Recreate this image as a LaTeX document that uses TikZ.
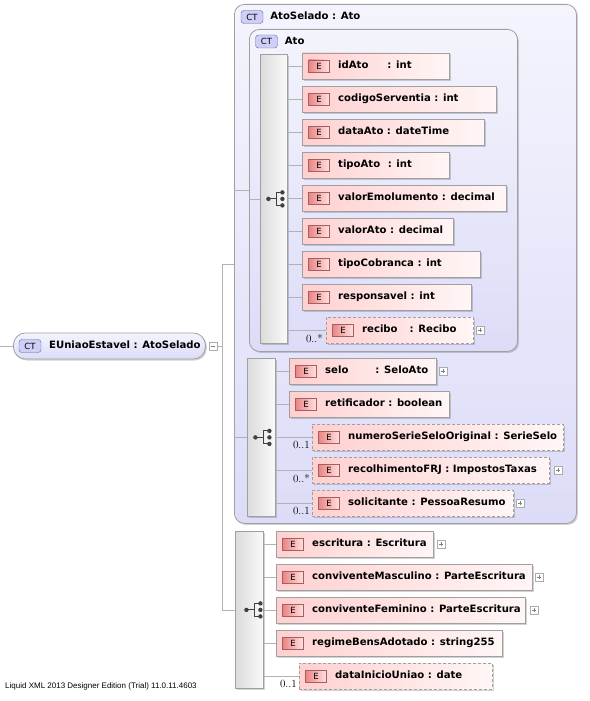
\documentclass[tikz,border=0pt]{standalone}
\usepackage{fontspec}
\newfontfamily\vsans{DejaVu Sans}
\newfontfamily\lsans{Liberation Sans}
\usepackage{tikz}
\usetikzlibrary{positioning,shadows}

\definecolor{lav}{RGB}{220,220,248}
\definecolor{lavlight}{RGB}{244,244,253}
\definecolor{ctfill}{RGB}{206,206,246}
\definecolor{ctline}{RGB}{100,100,165}
\definecolor{pinkL}{RGB}{255,208,208}
\definecolor{pinkR}{RGB}{255,246,246}
\definecolor{etagL}{RGB}{236,132,132}
\definecolor{etagR}{RGB}{255,226,226}
\definecolor{etagline}{RGB}{165,95,95}
\definecolor{boxline}{RGB}{160,160,160}
\definecolor{connline}{RGB}{178,178,178}

\tikzset{
  conn/.style={draw=connline, line width=0.8pt},
  shade/.style={drop shadow={shadow xshift=1.5pt, shadow yshift=-1.5pt, opacity=0.25, fill=black!70}},
  ctbox/.style={draw=boxline, line width=0.8pt, rounded corners=10pt, top color=lavlight, bottom color=lav,
    anchor=north west, inner sep=0pt, shade},
  seqbar/.style={draw=boxline, line width=0.8pt, left color=gray!28, right color=gray!4,
    anchor=north west, inner sep=0pt, shade},
  elem/.style={draw=boxline, line width=0.8pt, left color=pinkL, right color=pinkR,
    anchor=west, minimum height=26pt, inner sep=0pt, shade},
  optelem/.style={elem, dashed, dash pattern=on 3pt off 2pt},
  etag/.style={draw=etagline, left color=etagL, right color=etagR, minimum width=21pt, minimum height=12pt,
    inner sep=0pt, font=\vsans\fontsize{8.5}{9}\selectfont},
  ctlabel/.style={draw=ctline, fill=ctfill, rounded corners=3pt, minimum width=22pt, minimum height=13pt,
    inner sep=0pt, font=\vsans\fontsize{8.5}{9}\selectfont},
  etext/.style={anchor=west, inner sep=0pt, text height=7.5pt, text depth=2pt,
    font=\vsans\bfseries\fontsize{10.1}{11}\selectfont},
  mult/.style={anchor=north east, inner sep=0pt, font=\fontsize{11}{12}\selectfont},
  pmbox/.style={draw=gray!65, fill=white, line width=0.6pt, minimum size=8pt, inner sep=0pt},
  minusbox/.style={pmbox, path picture={\draw[gray, line width=0.6pt]
    ([xshift=1.8pt]path picture bounding box.west) -- ([xshift=-1.8pt]path picture bounding box.east);}},
  plusbox/.style={pmbox, path picture={\draw[gray, line width=0.6pt]
    ([xshift=1.8pt]path picture bounding box.west) -- ([xshift=-1.8pt]path picture bounding box.east)
    ([yshift=1.8pt]path picture bounding box.south) -- ([yshift=-1.8pt]path picture bounding box.north);}},
  seqicon/.pic={
    \draw[black!75, line width=1pt] (-7,0) -- (1,0) (1,-6.5) -- (1,6.5) (1,-6.5) -- (7,-6.5) (1,6.5) -- (7,6.5);
    \fill[black!75] (-7,0) circle (2.2);
    \foreach \yy in {-6.5,0,6.5} \fill[black!75] (7,\yy) circle (2.2);
  }
}

\begin{document}
\begin{tikzpicture}[x=1pt, y=-1pt]
  \useasboundingbox (0,0) rectangle (589,701);

  % containers
  \node[ctbox, minimum width=342pt, minimum height=519pt] (atoselado) at (234,4) {};
  \node[ctlabel] (atoseladoct) at ([xshift=18pt, yshift=-13pt]atoselado.north west) {CT};
  \node[etext, right=7pt of atoseladoct] (atoseladoname) {AtoSelado : Ato};

  \node[ctbox, minimum width=268pt, minimum height=322pt] (ato) at (249,29) {};
  \node[ctlabel] (atoct) at ([xshift=17.5pt, yshift=-12.5pt]ato.north west) {CT};
  \node[etext, right=7pt of atoct] (atoname) {Ato};

  \node[seqbar, minimum width=27pt, minimum height=289pt] (seqa) at (260,54) {};
  \node[seqbar, minimum width=28pt, minimum height=158pt] (seqb) at (247,358) {};
  \node[seqbar, minimum width=28pt, minimum height=157pt] (seqc) at (235,531) {};
  \pic at ([xshift=1.5pt]seqa.center) {seqicon};
  \pic at ([xshift=1pt]seqb.center) {seqicon};
  \pic at ([xshift=4pt]seqc.center) {seqicon};

  % main type
  \node[draw=boxline, line width=0.8pt, rounded corners=12pt, top color=lavlight, bottom color=lav, shade,
    minimum width=192pt, minimum height=26pt, inner sep=0pt, anchor=west] (uniao) at (13,346) {};
  \node[ctlabel] (uniaoct) at ([xshift=17pt]uniao.west) {CT};
  \node[etext] (uniaoname) at ([xshift=36pt]uniao.west) {EUniaoEstavel : AtoSelado};
  \node[minusbox, right=3pt of uniao] (uniaominus) {};

  \coordinate (treein) at (0,346);
  \coordinate (trtop) at (222,264);
  \coordinate (trbot) at (222,610);
  \draw[conn] (treein) -- (uniao.west);
  \draw[conn] (uniaominus.east) -- (uniaominus.east -| trtop);
  \draw[conn] (trtop) -- (trbot);
  \draw[conn] (trtop) -- (trtop -| atoselado.west);
  \draw[conn] (trbot) -- (trbot -| seqc.west);
  \draw[conn] (ato.west -| atoselado.west) -- (ato.west);
  \draw[conn] (seqa.west -| ato.west) -- (seqa.west);
  \draw[conn] (seqb.west -| atoselado.west) -- (seqb.west);

  % Ato
  \node[elem, minimum width=147pt] (idato) at (302,66) {};
  \node[etag] at ([xshift=17pt]idato.west) {E};
  \node[etext] at ([xshift=36pt]idato.west) {idAto\hspace{19pt}: int};

  \node[elem, minimum width=194pt] (codserv) at (302,99) {};
  \node[etag] at ([xshift=17pt]codserv.west) {E};
  \node[etext] at ([xshift=36pt]codserv.west) {codigoServentia : int};

  \node[elem, minimum width=182pt] (dataato) at (302,132) {};
  \node[etag] at ([xshift=17pt]dataato.west) {E};
  \node[etext] at ([xshift=36pt]dataato.west) {dataAto : dateTime};

  \node[elem, minimum width=147pt] (tipoato) at (302,165) {};
  \node[etag] at ([xshift=17pt]tipoato.west) {E};
  \node[etext] at ([xshift=36pt]tipoato.west) {tipoAto\hspace{4pt} : int};

  \node[elem, minimum width=204pt] (valoremol) at (302,198) {};
  \node[etag] at ([xshift=17pt]valoremol.west) {E};
  \node[etext] at ([xshift=36pt]valoremol.west) {valorEmolumento : decimal};

  \node[elem, minimum width=151pt] (valorato) at (302,231) {};
  \node[etag] at ([xshift=17pt]valorato.west) {E};
  \node[etext] at ([xshift=36pt]valorato.west) {valorAto : decimal};

  \node[elem, minimum width=178pt] (tipocob) at (302,264) {};
  \node[etag] at ([xshift=17pt]tipocob.west) {E};
  \node[etext] at ([xshift=36pt]tipocob.west) {tipoCobranca : int};

  \node[elem, minimum width=169pt] (resp) at (302,297) {};
  \node[etag] at ([xshift=17pt]resp.west) {E};
  \node[etext] at ([xshift=36pt]resp.west) {responsavel : int};

  \node[optelem, minimum width=147pt] (recibo) at (326,330) {};
  \node[etag] at ([xshift=17pt]recibo.west) {E};
  \node[etext] at ([xshift=36pt]recibo.west) {recibo\hspace{12pt}: Recibo};
  \node[plusbox, right=2pt of recibo] (reciboplus) {};
  \node[mult] at ([xshift=-3pt, yshift=-4pt]recibo.west) {0..*};

  \foreach \el in {idato,codserv,dataato,tipoato,valoremol,valorato,tipocob,resp,recibo}
    \draw[conn] (seqa.east |- \el.west) -- (\el.west);

  % AtoSelado
  \node[elem, minimum width=147pt] (selo) at (289,371) {};
  \node[etag] at ([xshift=17pt]selo.west) {E};
  \node[etext] at ([xshift=36pt]selo.west) {selo\hspace{27pt}: SeloAto};
  \node[plusbox, right=2pt of selo] (seloplus) {};

  \node[elem, minimum width=160pt] (retif) at (289,404) {};
  \node[etag] at ([xshift=17pt]retif.west) {E};
  \node[etext] at ([xshift=36pt]retif.west) {retificador : boolean};

  \node[optelem, minimum width=251pt] (numserie) at (312,437) {};
  \node[etag] at ([xshift=17pt]numserie.west) {E};
  \node[etext] at ([xshift=36pt]numserie.west) {numeroSerieSeloOriginal : SerieSelo};
  \node[mult] at ([xshift=-2pt, yshift=-4pt]numserie.west) {0..1};

  \node[optelem, minimum width=237pt] (recolh) at (312,470) {};
  \node[etag] at ([xshift=17pt]recolh.west) {E};
  \node[etext] at ([xshift=36pt]recolh.west) {recolhimentoFRJ : ImpostosTaxas};
  \node[plusbox, right=4pt of recolh] (recolhplus) {};
  \node[mult] at ([xshift=-2pt, yshift=-4pt]recolh.west) {0..*};

  \node[optelem, minimum width=201pt] (solic) at (312,503) {};
  \node[etag] at ([xshift=17pt]solic.west) {E};
  \node[etext] at ([xshift=36pt]solic.west) {solicitante : PessoaResumo};
  \node[plusbox, right=2pt of solic] (solicplus) {};
  \node[mult] at ([xshift=-2pt, yshift=-4pt]solic.west) {0..1};

  \foreach \el in {selo,retif,numserie,recolh,solic}
    \draw[conn] (seqb.east |- \el.west) -- (\el.west);

  % EUniaoEstavel
  \node[elem, minimum width=157pt] (escritura) at (276,544) {};
  \node[etag] at ([xshift=17pt]escritura.west) {E};
  \node[etext] at ([xshift=36pt]escritura.west) {escritura : Escritura};
  \node[plusbox, right=3pt of escritura] (escrituraplus) {};

  \node[elem, minimum width=256pt] (convmasc) at (276,577) {};
  \node[etag] at ([xshift=17pt]convmasc.west) {E};
  \node[etext] at ([xshift=36pt]convmasc.west) {conviventeMasculino : ParteEscritura};
  \node[plusbox, right=2pt of convmasc] (convmascplus) {};

  \node[elem, minimum width=249pt] (convfem) at (276,610) {};
  \node[etag] at ([xshift=17pt]convfem.west) {E};
  \node[etext] at ([xshift=36pt]convfem.west) {conviventeFeminino : ParteEscritura};
  \node[plusbox, right=4pt of convfem] (convfemplus) {};

  \node[elem, minimum width=226pt] (regime) at (276,643) {};
  \node[etag] at ([xshift=17pt]regime.west) {E};
  \node[etext] at ([xshift=36pt]regime.west) {regimeBensAdotado : string255};

  \node[optelem, minimum width=193pt] (datainicio) at (299,676) {};
  \node[etag] at ([xshift=17pt]datainicio.west) {E};
  \node[etext] at ([xshift=36pt]datainicio.west) {dataInicioUniao : date};
  \node[mult] at ([xshift=-2pt, yshift=-4pt]datainicio.west) {0..1};

  \foreach \el in {escritura,convmasc,convfem,regime,datainicio}
    \draw[conn] (seqc.east |- \el.west) -- (\el.west);

  \node[anchor=west, inner sep=0pt, font=\lsans\fontsize{8}{9}\selectfont] (credit) at (5,686)
    {Liquid XML 2013 Designer Edition (Trial) 11.0.11.4603};
\end{tikzpicture}
\end{document}
